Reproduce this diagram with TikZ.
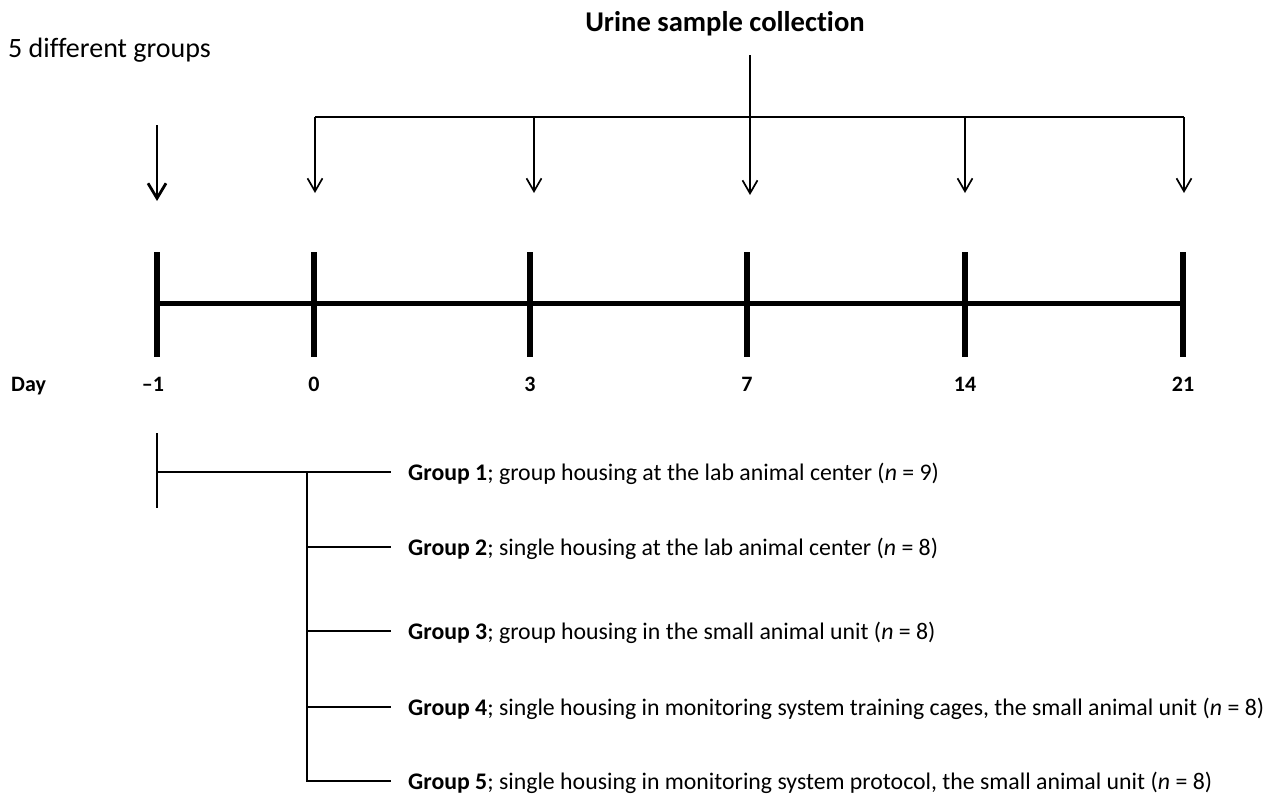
\documentclass[tikz,border=0pt]{standalone}
\usepackage{fontspec}
\setmainfont{Carlito}[Ligatures={TeX,NoCommon}]
\usetikzlibrary{arrows.meta}
\begin{document}
\begin{tikzpicture}[x=1pt,y=-1pt,
  thinline/.style={line width=1.7pt},
  bigarrow/.style={line width=2.8pt,-{Straight Barb[length=15pt,width=18pt,line width=2.8pt]}},
  smallarrow/.style={line width=1.7pt,-{Straight Barb[length=13pt,width=15pt,line width=1.7pt]}},
  axisline/.style={line width=5pt},
  tickline/.style={line width=5.5pt},
  treeline/.style={line width=2.6pt},
  daylbl/.style={font=\fontsize{22}{26}\selectfont\bfseries, anchor=base, inner sep=0pt},
  grp/.style={font=\fontsize{23.8}{28}\selectfont, anchor=base west, inner sep=0pt},
  title/.style={font=\fontsize{28}{32}\selectfont, anchor=base west, inner sep=0pt}]
\useasboundingbox (0,0) rectangle (1269,795);

% titles
\node[title] (groups) at (8,57) {5 different groups};
\node[title, font=\fontsize{28.6}{32}\selectfont\bfseries, anchor=base] (urine) at (725,31) {Urine sample collection};

% collection bracket
\coordinate (ctop) at (750,55);
\coordinate (cmid) at (750,117);
\coordinate (bl) at (315,117);
\coordinate (b3) at (534,117);
\coordinate (b14) at (965,117);
\coordinate (br) at (1184,117);
\coordinate (t0) at (315,193);
\coordinate (t3) at (534,193);
\coordinate (t7) at (750,195);
\coordinate (t14) at (965,193);
\coordinate (t21) at (1184,193);
\draw[thinline] (bl) -- (br);
\draw[thinline] (ctop) -- (cmid);
\draw[smallarrow] (bl) -- (t0);
\draw[smallarrow] (b3) -- (t3);
\draw[smallarrow] (cmid) -- (t7);
\draw[smallarrow] (b14) -- (t14);
\draw[smallarrow] (br) -- (t21);

% day -1 arrow
\coordinate (am1top) at (157,125);
\coordinate (am1tip) at (157,201);
\draw[bigarrow] (am1top) -- (am1tip);

% timeline
\coordinate (axl) at (157,303);
\coordinate (axr) at (1183,303);
\draw[axisline] (axl) -- (axr);
\foreach \n/\x in {m1/157, d0/314, d3/530, d7/747, d14/965, d21/1183}{
  \coordinate (\n top) at (\x,252);
  \coordinate (\n bot) at (\x,357);
  \draw[tickline] (\n top) -- (\n bot);
}

% day labels
\node[daylbl, anchor=base west] (day) at (11,391) {Day};
\node[daylbl] (lm1) at (153,391) {\textendash1};
\node[daylbl] (l0) at (314,391) {0};
\node[daylbl] (l3) at (530,391) {3};
\node[daylbl] (l7) at (747,391) {7};
\node[daylbl] (l14) at (965,391) {14};
\node[daylbl] (l21) at (1183,391) {21};

% group tree
\coordinate (vtop) at (157,433);
\coordinate (vbot) at (157,508);
\coordinate (hj) at (157,472);
\coordinate (j1) at (307,472);
\coordinate (j2) at (307,547);
\coordinate (j3) at (307,631);
\coordinate (j4) at (307,707);
\coordinate (j5) at (307,781);
\coordinate (e1) at (391,472);
\coordinate (e2) at (391,547);
\coordinate (e3) at (391,631);
\coordinate (e4) at (391,707);
\coordinate (e5) at (391,781);
\draw[treeline] (vtop) -- (vbot);
\draw[treeline] (hj) -- (e1);
\draw[treeline] (j1) -- (j5) -- (e5);
\draw[treeline] (j2) -- (e2);
\draw[treeline] (j3) -- (e3);
\draw[treeline] (j4) -- (e4);

\node[grp] (g1) at (408,480) {\textbf{Group 1}; group housing at the lab animal center (\textit{n} = 9)};
\node[grp] (g2) at (408,555) {\textbf{Group 2}; single housing at the lab animal center (\textit{n} = 8)};
\node[grp] (g3) at (408,639) {\textbf{Group 3}; group housing in the small animal unit (\textit{n} = 8)};
\node[grp] (g4) at (408,715) {\textbf{Group 4}; single housing in monitoring system training cages, the small animal unit (\textit{n} = 8)};
\node[grp] (g5) at (408,789) {\textbf{Group 5}; single housing in monitoring system protocol, the small animal unit (\textit{n} = 8)};
\end{tikzpicture}
\end{document}
